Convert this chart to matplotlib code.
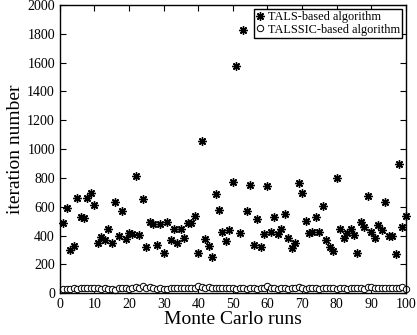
import numpy as np
import matplotlib
matplotlib.use('Agg')
import matplotlib.pyplot as plt

plt.rcParams['font.family'] = ['Liberation Serif', 'DejaVu Serif']

runs = np.arange(1, 101)

tals = [487, 594, 297, 325, 663, 526, 519, 658, 695, 613,
        345, 389, 366, 443, 350, 635, 398, 571, 379, 418,
        409, 814, 405, 654, 322, 496, 478, 331, 478, 281,
        494, 368, 448, 345, 448, 382, 487, 487, 535, 277,
        1055, 377, 325, 254, 688, 576, 423, 359, 441, 771,
        1575, 414, 1830, 567, 750, 331, 517, 318, 407, 741,
        423, 530, 407, 446, 551, 384, 311, 350, 763, 693,
        503, 416, 421, 530, 427, 603, 370, 318, 293, 802,
        448, 382, 418, 443, 402, 279, 496, 462, 674, 423,
        384, 475, 439, 633, 395, 395, 274, 894, 462, 533]

talssic = [30, 32, 28, 35, 30, 33, 38, 36, 34, 33,
           35, 32, 34, 30, 28, 20, 36, 35, 33, 32,
           38, 45, 34, 48, 36, 42, 35, 30, 33, 28,
           32, 34, 36, 35, 38, 33, 37, 34, 38, 46,
           40, 36, 45, 35, 38, 36, 33, 37, 35, 38,
           32, 34, 36, 30, 33, 35, 32, 34, 36, 46,
           38, 35, 30, 33, 34, 32, 36, 38, 44, 36,
           30, 33, 34, 36, 30, 38, 35, 33, 36, 30,
           35, 38, 28, 34, 36, 38, 34, 30, 40, 42,
           36, 33, 38, 35, 34, 36, 38, 35, 40, 30]

fig = plt.figure(figsize=(4.17, 3.35), dpi=100)
ax = fig.add_axes([0.1434, 0.125, 0.830, 0.86])

ax.plot(runs, tals, linestyle='none', marker=(8, 2, 0), markersize=6,
        markeredgewidth=1.0, color='black', clip_on=False,
        label='TALS-based algorithm')
ax.plot(runs, talssic, linestyle='none', marker='o', markersize=4.6,
        markerfacecolor='white', markeredgecolor='black', markeredgewidth=0.7,
        clip_on=False, label='TALSSIC-based algorithm')

ax.set_xlim(0, 100)
ax.set_ylim(0, 2000)
ax.set_xticks(np.arange(0, 101, 10))
ax.set_yticks(np.arange(0, 2001, 200))
ax.tick_params(direction='in', top=True, right=True, labelsize=10, length=4, width=0.8)
for s in ax.spines.values():
    s.set_linewidth(1.0)

ax.set_xlabel('Monte Carlo runs', fontsize=14, labelpad=0)
ax.set_ylabel('iteration number', fontsize=14, labelpad=2)

leg = ax.legend(loc='upper right', fontsize=8.8, numpoints=1, handlelength=0.7,
                handletextpad=0.25, borderpad=0.2, labelspacing=0.05,
                borderaxespad=0.3, fancybox=False, framealpha=1)
leg.get_frame().set_edgecolor('black')
leg.get_frame().set_linewidth(1.0)

fig.savefig('out.png', dpi=100)
